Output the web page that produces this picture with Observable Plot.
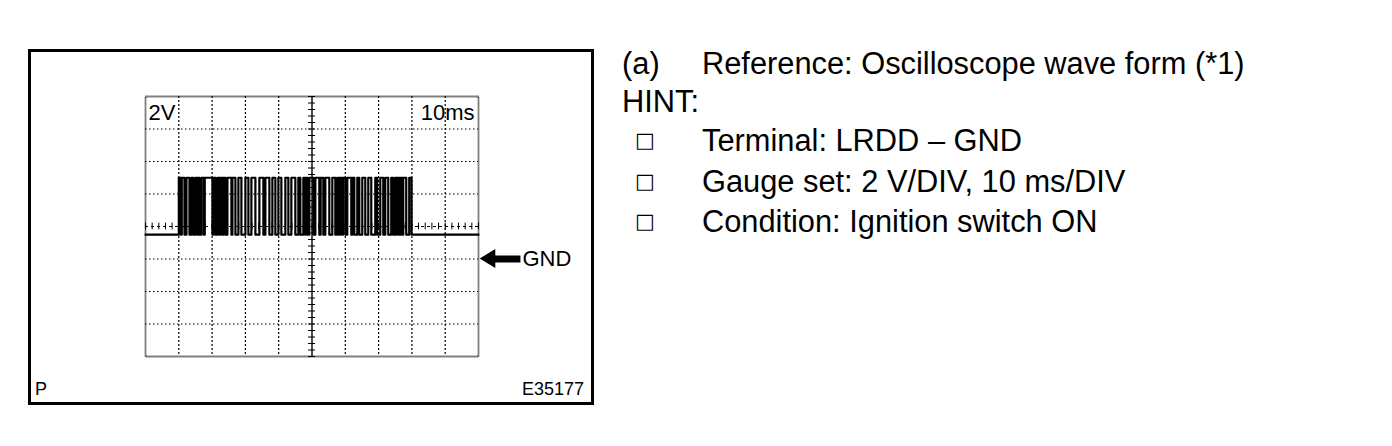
<!DOCTYPE html>
<html><head><meta charset="utf-8">
<script src="https://cdn.jsdelivr.net/npm/d3@7"></script>
<script src="https://cdn.jsdelivr.net/npm/@observablehq/plot@0.6"></script>
<style>
html,body{margin:0;padding:0;background:#fff;}
#page{position:relative;width:1392px;height:446px;overflow:hidden;font-family:"Liberation Sans",Arial,sans-serif;color:#000;}
#frame{position:absolute;left:28px;top:49px;width:566px;height:356px;border:3px solid #000;box-sizing:border-box;}
#chart{position:absolute;left:0;top:0;}
.t{position:absolute;white-space:pre;font-size:30.8px;line-height:30px;}
.sq{position:absolute;font-family:"DejaVu Sans";font-size:21px;line-height:21px;}
.small{position:absolute;font-size:18px;line-height:18px;white-space:pre;}
</style></head>
<body><div id="page">
<div id="frame"></div>
<div id="chart"></div>
<div class="small" style="left:35px;top:380px">P</div>
<div class="small" style="left:484px;width:100px;text-align:right;top:380px">E35177</div>
<div class="t" style="left:622px;top:49px">(a)</div>
<div class="t" style="left:702px;top:49px">Reference: Oscilloscope wave form (*1)</div>
<div class="t" style="left:622px;top:87px">HINT:</div>
<div class="sq" style="left:635px;top:130px">□</div>
<div class="t" style="left:702px;top:126px">Terminal: LRDD – GND</div>
<div class="sq" style="left:635px;top:171px">□</div>
<div class="t" style="left:702px;top:167px">Gauge set: 2 V/DIV, 10 ms/DIV</div>
<div class="sq" style="left:635px;top:211px">□</div>
<div class="t" style="left:702px;top:207px">Condition: Ignition switch ON</div>
</div>
<script>
// Screen divisions: 10 ms/DIV horizontally, 2 V/DIV vertically (GND = 0 V)
const timeDivs = [0, 10, 20, 30, 40, 50, 60, 70, 80, 90, 100];
const voltDivs = [-6, -4, -2, 0, 2, 4, 6, 8, 10];
const scaleLabels = ["2V", "10ms"];
const gndLabel = "GND";

// Signal levels (V)
const lowLevel = 1.5;
const highLevel = 5;

// Pulse edges (ms)
const riseTimes = [10.0, 10.9, 12.3, 13.8, 15.0, 15.8, 16.8, 17.8, 20.4, 21.6, 22.5, 23.4, 24.6, 26.1, 27.9, 30.0, 31.8, 34.2, 36.0, 38.1, 39.9, 42.0, 43.8, 45.9, 47.4, 48.2, 49.2, 51.0, 52.6, 54.0, 56.1, 57.6, 58.4, 59.3, 60.6, 62.1, 63.6, 65.1, 66.9, 69.0, 70.5, 72.0, 73.8, 75.0, 75.8, 76.6, 77.4, 79.2];
const fallTimes = [10.6, 11.7, 13.2, 14.4, 15.5, 16.2, 17.5, 20.1, 21.0, 22.2, 23.1, 24.0, 25.8, 27.0, 28.8, 30.9, 33.0, 35.4, 37.2, 39.0, 40.8, 42.9, 45.0, 46.5, 47.9, 48.7, 50.4, 52.2, 53.4, 55.2, 57.0, 58.1, 59.0, 60.0, 61.8, 62.7, 64.2, 66.0, 67.8, 69.6, 71.4, 72.9, 74.4, 75.5, 76.3, 77.1, 78.3, 79.9];

const signal = [{t: 0, v: lowLevel}];
riseTimes.forEach((r, i) => {
  signal.push({t: r, v: highLevel});
  signal.push({t: fallTimes[i], v: lowLevel});
});
signal.push({t: 100, v: lowLevel});

// minor graduation marks on the centre lines
const minorT = d3.range(0, 100.001, 2);
const minorV = d3.range(-6, 10.001, 0.4);

// GND arrow (annotation outside the screen, in scale units)
const arrowHead = [{x: 100.5, y1: 0, y2: 0}, {x: 105.2, y1: -0.58, y2: 0.58}];
const arrowShaft = [{x1: 104.5, x2: 112.6}];

const chart = Plot.plot({
  width: 600, height: 446,
  marginLeft: 145, marginRight: 122, marginTop: 96, marginBottom: 90,
  x: {domain: [0, 100], axis: null},
  y: {domain: [-6, 10], axis: null},
  style: {background: "transparent", fontFamily: "'Liberation Sans', Arial, sans-serif", overflow: "visible", color: "#000"},
  marks: [
    Plot.ruleX(timeDivs.filter(t => t > 0 && t < 100 && t !== 50), {stroke: "#000", strokeWidth: 1.2, strokeDasharray: "2,2"}),
    Plot.ruleY(voltDivs.filter(v => v > -6 && v < 10 && v !== 2), {stroke: "#000", strokeWidth: 1.2, strokeDasharray: "1.5,2.5"}),
    Plot.ruleY([2], {stroke: "#000", strokeWidth: 1.2, strokeDasharray: "3,3"}),
    Plot.ruleX(minorT, {x: d => d, y1: 1.79, y2: 2.21, stroke: "#000", strokeWidth: 1}),
    Plot.ruleX([50], {stroke: "#000", strokeWidth: 1.4}),
    Plot.ruleY(minorV, {y: d => d, x1: 48.95, x2: 51.05, stroke: "#000", strokeWidth: 1}),
    Plot.frame({stroke: "#000", strokeWidth: 1.8, strokeDasharray: "1,1"}),
    Plot.line(signal, {x: "t", y: "v", curve: "step-after", stroke: "#000", strokeWidth: 2.2}),
    Plot.text([scaleLabels[0]], {text: d => d, frameAnchor: "top-left", textAnchor: "start", lineAnchor: "top", dx: 3, dy: 8, fontSize: 22, fill: "#000"}),
    Plot.text([scaleLabels[1]], {text: d => d, frameAnchor: "top-right", textAnchor: "end", lineAnchor: "top", dx: -4, dy: 8, fontSize: 22, fill: "#000"}),
    Plot.areaY(arrowHead, {x: "x", y1: "y1", y2: "y2", fill: "#000", curve: "linear"}),
    Plot.link(arrowShaft, {x1: "x1", x2: "x2", y1: () => 0, y2: () => 0, stroke: "#000", strokeWidth: 7}),
    Plot.text([gndLabel], {text: d => d, x: () => 113.2, y: () => 0, textAnchor: "start", lineAnchor: "middle", fontSize: 22, fill: "#000"})
  ]
});
document.getElementById("chart").appendChild(chart);
</script>
</body></html>
